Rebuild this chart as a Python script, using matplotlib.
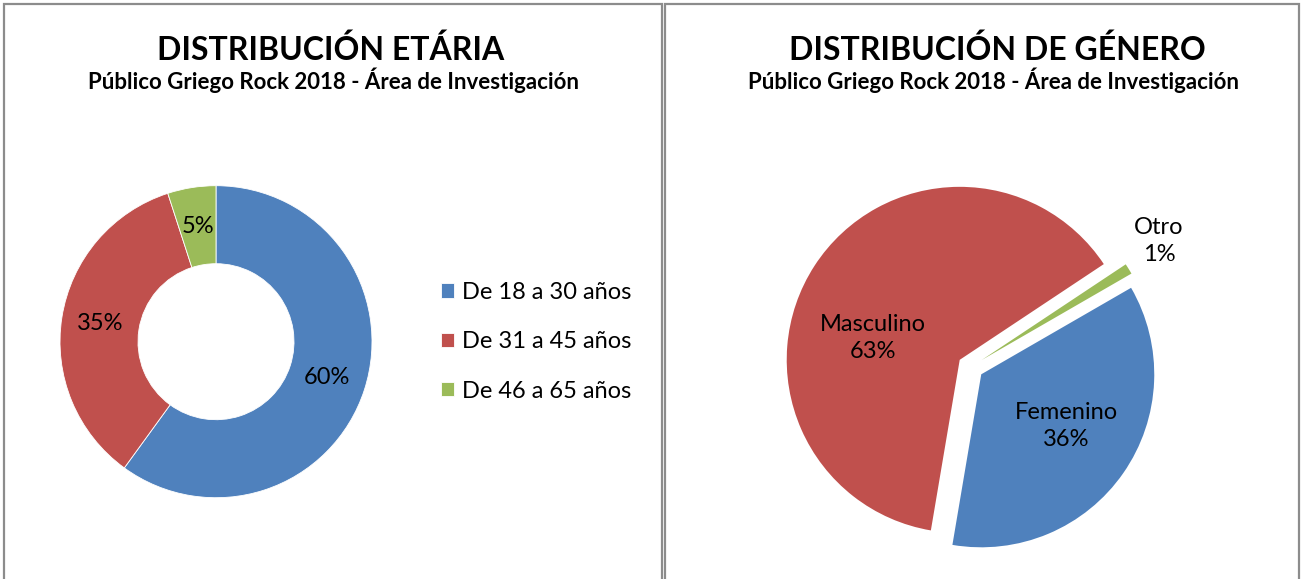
import matplotlib
matplotlib.use("Agg")
import matplotlib.pyplot as plt
from matplotlib.patches import Rectangle

plt.rcParams['font.family'] = ['Lato', 'DejaVu Sans']

# data
age_labels = ['De 18 a 30 años', 'De 31 a 45 años', 'De 46 a 65 años']
age_values = [60, 35, 5]
gender_labels = ['Femenino', 'Masculino', 'Otro']
gender_values = [36, 63, 1]
colors = ['#4F81BD', '#C0504D', '#9BBB59']

title_age = 'DISTRIBUCIÓN ETÁRIA'
title_gender = 'DISTRIBUCIÓN DE GÉNERO'
subtitle = 'Público Griego Rock 2018 - Área de Investigación'

W, H = 1301, 579
fig = plt.figure(figsize=(W / 100, H / 100), dpi=100)


def fx(px):
    return px / W


def fy(py):
    return 1 - py / H


# panel frames
for x0, x1 in [(4, 662), (665, 1299)]:
    fig.patches.append(Rectangle((fx(x0), fy(600)), fx(x1 - x0), (600 - 4) / H,
                                 transform=fig.transFigure, fill=False,
                                 edgecolor='#8c8c8c', linewidth=1.6))

# titles
for cx, t in [(331, title_age), (997, title_gender)]:
    fig.text(fx(cx), fy(60), t, ha='center', va='baseline', fontsize=23,
             fontweight='bold')
for cx in [333, 993]:
    fig.text(fx(cx), fy(89), subtitle, ha='center', va='baseline', fontsize=16,
             fontweight='bold')


def pie_axes(cx, cy, r):
    return fig.add_axes([fx(cx - r), fy(cy + r), 2 * r / W, 2 * r / H])


# donut chart: age
ax1 = pie_axes(216, 341.7, 156)
wedges, _, autotexts = ax1.pie(age_values, colors=colors, startangle=90,
                               counterclock=False, radius=1,
                               wedgeprops=dict(width=0.5, edgecolor='white', linewidth=0.6),
                               autopct='%d%%', pctdistance=0.75,
                               textprops=dict(fontsize=17, color='black'))
ax1.set_xlim(-1, 1)
ax1.set_ylim(-1, 1)
ax1.axis('off')

leg = fig.legend(wedges, age_labels, loc='center left',
                 bbox_to_anchor=(fx(441), fy(341.7)), frameon=False,
                 fontsize=17, handlelength=0.55, handleheight=0.55,
                 handletextpad=0.35, labelspacing=1.2, borderaxespad=0,
                 borderpad=0)

# exploded pie: gender
R = 173
ax2 = pie_axes(970.6, 366.9, R)
w2, _ = ax2.pie(gender_values, colors=colors, startangle=30, counterclock=False,
                radius=1, explode=[0.075] * 3,
                wedgeprops=dict(edgecolor='none'))
ax2.set_xlim(-1, 1)
ax2.set_ylim(-1, 1)
ax2.axis('off')

label_pos = {'Masculino': (873, 338), 'Femenino': (1066, 426), 'Otro': (1159, 241)}
for lab, val in zip(gender_labels, gender_values):
    px, py = label_pos[lab]
    fig.text(fx(px), fy(py), f'{lab}\n{val}%', ha='center', va='center',
             fontsize=17, linespacing=1.4)

plt.savefig('out.png', dpi=100)
